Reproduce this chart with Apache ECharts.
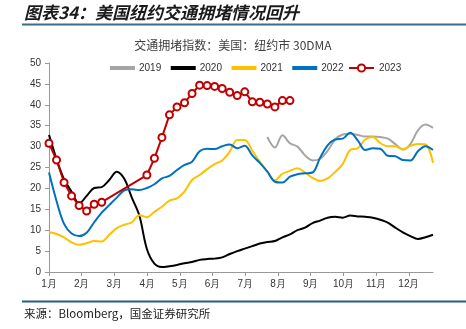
<!DOCTYPE html>
<html><head><meta charset="utf-8">
<script src="https://cdn.jsdelivr.net/npm/echarts@6/dist/echarts.min.js"></script>
<style>html,body{margin:0;padding:0;background:#fff}#c{width:466px;height:329px}</style>
</head><body><div id="c"></div>
<script>
// x positions: day of year (weekly samples)
const days = [0,7,14,21,28,35,42,49,56,63,70,77,84,91,98,105,112,119,126,133,140,147,154,161,168,175,182,189,196,203,210,217,224,231,238,245,252,259,266,273,280,287,294,301,308,315,322,329,336,343,350,357];
const monthTickDays = [0,30.4,60.8,91.3,121.7,152.1,182.5,212.9,243.3,273.8,304.2,334.6];
const monthLabels = ['1月','2月','3月','4月','5月','6月','7月','8月','9月','10月','11月','12月'];
const seriesNames = ['2019','2020','2021','2022','2023'];

const v2019 = [null,null,null,null,null,null,null,null,null,null,null,null,null,null,null,null,null,null,null,null,null,null,null,null,null,null,null,null,null,
  32.3,29.8,32.7,30.8,30.0,27.9,26.7,27.1,29.0,31.7,32.9,33.1,32.8,32.4,32.4,32.3,31.9,30.6,29.3,30.6,33.9,35.3,34.5];
const v2020 = [32.8,27.0,22.2,19.2,16.4,18.2,20.1,20.3,22.0,24.0,22.3,17.8,13.5,5.5,2.0,1.2,1.4,1.7,2.1,2.4,2.9,3.1,3.2,3.5,4.3,5.0,5.6,6.2,6.8,7.2,7.4,8.3,9.0,10.0,10.6,11.7,12.3,13.0,13.2,13.0,13.5,13.3,13.2,13.0,12.5,11.8,10.6,9.5,8.6,7.9,8.3,8.9];
const v2021 = [9.5,9.1,8.3,7.1,6.5,6.9,7.4,7.3,8.9,10.5,11.3,11.9,13.6,13.1,14.4,15.6,17.1,17.6,19.3,22.0,23.2,24.6,25.8,26.7,28.8,31.6,31.6,29.0,26.4,24.0,21.9,23.5,24.2,24.8,23.8,22.5,21.8,22.4,23.9,25.8,29.2,29.6,31.7,32.3,30.8,30.1,30.1,29.3,30.2,30.6,30.5,26.1];
const v2022 = [23.8,17.0,11.5,9.2,8.6,9.4,11.9,14.2,16.0,17.8,19.5,19.8,19.6,20.1,21.0,22.4,23.0,24.4,25.6,26.4,28.9,29.5,29.4,30.1,30.5,29.6,30.2,27.9,26.1,24.0,21.6,21.4,22.8,23.4,23.6,23.8,27.3,30.3,31.7,31.9,33.3,31.5,29.2,29.6,29.5,27.8,27.7,26.8,26.7,28.9,30.1,29.2];
const v2023 = [30.8,26.8,21.4,18.2,15.9,14.6,16.2,16.7,null,null,null,null,null,23.2,27.2,32.2,37.6,39.5,40.5,42.7,44.7,44.6,44.4,43.9,43.0,42.2,43.1,40.7,40.6,40.2,39.5,41.0,41.0];

const colors = ['#A5A5A5','#000000','#FFC000','#0070C0','#C00000'];
const allValues = [v2019,v2020,v2021,v2022,v2023];

function pairs(vals){ return vals.map((v,i)=>[days[i], v]); }

const chart = echarts.init(document.getElementById('c'), null, {renderer:'canvas'});
const series = seriesNames.map((name, idx) => {
  const isLast = idx === 4;
  return {
    name, type:'line', data: pairs(allValues[idx]),
    smooth: isLast ? false : 0.35,
    connectNulls: true,
    symbol: isLast ? 'emptyCircle' : 'none',
    symbolSize: 7,
    showSymbol: isLast,
    lineStyle: {color: colors[idx], width: 2},
    itemStyle: {color: colors[idx], borderColor: colors[idx], borderWidth: 1},
    emphasis: {disabled: true},
    animation: false
  };
});

const legendText = {fontSize: 10, color: '#333', fontFamily: 'Liberation Sans, Arial, sans-serif'};

chart.setOption({
  animation: false,
  textStyle: {fontFamily: 'Liberation Sans, Arial, sans-serif'},
  grid: {left: 49, right: 33, top: 63, bottom: 57},
  legend: [
    {
      data: seriesNames.slice(0,4), top: 58, left: 105, icon: 'rect',
      itemWidth: 23, itemHeight: 2, itemGap: 9.5,
      textStyle: legendText
    },
    {
      data: seriesNames.slice(4), top: 58, left: 343,
      itemWidth: 25, itemHeight: 9,
      textStyle: legendText
    }
  ],
  xAxis: {
    type: 'value', min: 0, max: 357,
    axisLine: {show: true, lineStyle: {color: '#999'}},
    axisTick: {show: true, length: 4, lineStyle: {color: '#999'}, customValues: monthTickDays},
    axisLabel: {
      customValues: monthTickDays,
      fontSize: 10, color: '#333', margin: 7,
      formatter: function(v){
        let best = 0, bd = 1e9;
        monthTickDays.forEach((d,i)=>{ const dd = Math.abs(d - v); if (dd < bd){bd = dd; best = i;} });
        return bd < 1 ? monthLabels[best] : '';
      }
    },
    splitLine: {show: false}
  },
  yAxis: {
    type: 'value', min: 0, max: 50, interval: 5,
    axisLine: {show: true, lineStyle: {color: '#999'}},
    axisTick: {show: true, length: 4, lineStyle: {color: '#999'}},
    axisLabel: {fontSize: 10, color: '#333', margin: 8},
    splitLine: {show: false}
  },
  series,
  graphic: [
    {type:'text', left: 24, top: 4, style:{text:'图表34：美国纽约交通拥堵情况回升', font:'italic bold 17px "Noto Sans CJK SC"', fill:'#1a1a1a'}},
    {type:'rect', shape:{x:22, y:23.5, width:444, height:2}, style:{fill:'#3a6c8c'}},
    {type:'text', left: 'center', top: 39, style:{text:'交通拥堵指数：美国：纽约市 30DMA', font:'12px "Noto Sans CJK SC"', fill:'#404040'}},
    {type:'rect', shape:{x:22, y:300.5, width:444, height:2}, style:{fill:'#1f5f7f'}},
    {type:'text', left: 24, top: 308, style:{text:'来源：Bloomberg，国金证券研究所', font:'11.5px "Noto Sans CJK SC"', fill:'#1a1a1a'}}
  ]
});
</script></body></html>
